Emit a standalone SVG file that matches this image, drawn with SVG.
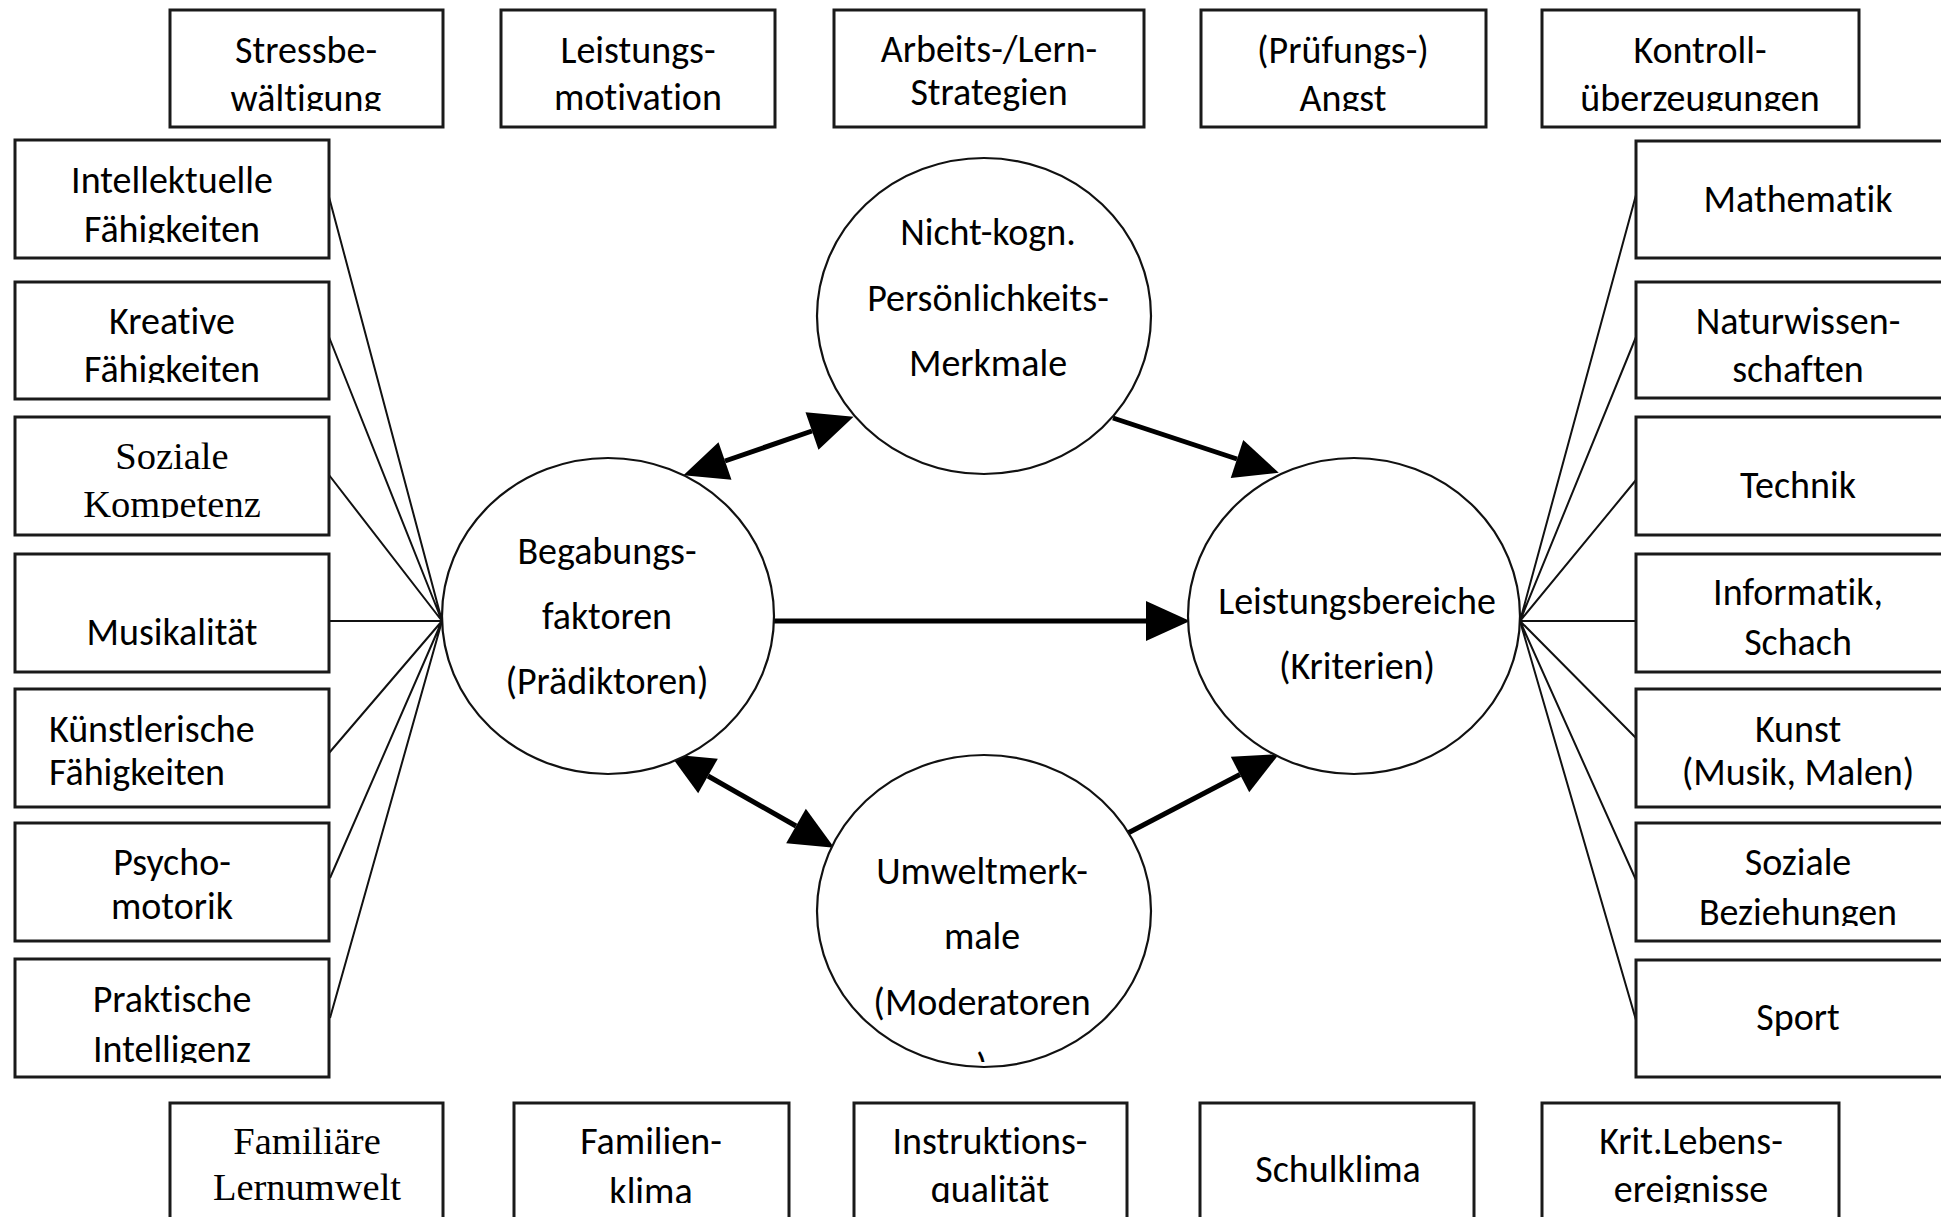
<svg xmlns="http://www.w3.org/2000/svg" width="1941" height="1217" viewBox="0 0 1941 1217">
<style>
.box{fill:#fff;stroke:#1a1a1a;stroke-width:3}
.ell{fill:#fff;stroke:#111;stroke-width:2.2}
.t{font-family:Carlito,Lato,"Liberation Sans",sans-serif;font-size:38px;fill:#000;text-anchor:middle;font-variant-ligatures:none}
.ts{text-anchor:start}
.s{font-family:"Liberation Serif",serif;font-size:38.5px;fill:#000;text-anchor:middle}
.fan{stroke:#111;stroke-width:2;fill:none}
.arr{stroke:#000;stroke-width:5;fill:none}
</style>
<defs>
<marker id="ah" markerUnits="userSpaceOnUse" markerWidth="44" markerHeight="40" refX="0" refY="19" orient="auto-start-reverse" viewBox="0 0 42 38" overflow="visible">
<path d="M0,0 L42,19 L0,38 Z" fill="#000"/>
</marker>
<clipPath id="cTop"><rect x="0" y="0" width="1941" height="111"/></clipPath>
<clipPath id="cL1"><rect x="0" y="140" width="340" height="103"/></clipPath>
<clipPath id="cL2"><rect x="0" y="281" width="340" height="102"/></clipPath>
<clipPath id="cL3"><rect x="0" y="417" width="340" height="101"/></clipPath>
<clipPath id="cL7"><rect x="0" y="959" width="340" height="104"/></clipPath>
<clipPath id="cR6"><rect x="1630" y="823" width="320" height="103"/></clipPath>
<clipPath id="cBot"><rect x="0" y="1100" width="1941" height="103"/></clipPath>
<clipPath id="cUm"><rect x="800" y="1040" width="400" height="22"/></clipPath>
</defs>
<rect width="1941" height="1217" fill="#fff"/>

<g id="connectors">
<path class="fan" d="M329,197 L442,621 M329,337 L442,621 M329,475 L442,621 M329,621 L442,621 M329,753 L442,621 M330,878 L442,621 M330,1018 L442,621"/>
<path class="fan" d="M1636,195 L1520,621 M1636,337 L1520,621 M1636,480 L1520,621 M1636,621 L1520,621 M1636,738 L1520,621 M1636,880 L1520,621 M1636,1020 L1520,621"/>
<line class="arr" x1="725" y1="461" x2="812" y2="431" marker-start="url(#ah)" marker-end="url(#ah)"/>
<line class="arr" x1="1113" y1="418" x2="1237" y2="459" marker-end="url(#ah)"/>
<line class="arr" x1="774" y1="621" x2="1146" y2="621" marker-end="url(#ah)"/>
<line class="arr" x1="708" y1="776" x2="796" y2="826" marker-start="url(#ah)" marker-end="url(#ah)"/>
<line class="arr" x1="1128" y1="833" x2="1240" y2="774.5" marker-end="url(#ah)"/>
</g>

<g id="top-stress"><rect class="box" x="170" y="10" width="273" height="117"/><g clip-path="url(#cTop)"><text class="t" x="306" y="63">Stressbe-</text><text class="t" x="306" y="111">wältigung</text></g></g>
<g id="top-leistung"><rect class="box" x="501" y="10" width="274" height="117"/><g clip-path="url(#cTop)"><text class="t" x="638" y="63">Leistungs-</text><text class="t" x="638" y="110">motivation</text></g></g>
<g id="top-arbeit"><rect class="box" x="834" y="10" width="310" height="117"/><g clip-path="url(#cTop)"><text class="t" x="989" y="62">Arbeits-/Lern-</text><text class="t" x="989" y="105">Strategien</text></g></g>
<g id="top-angst"><rect class="box" x="1201" y="10" width="285" height="117"/><g clip-path="url(#cTop)"><text class="t" x="1343" y="63">(Prüfungs-)</text><text class="t" x="1343" y="111">Angst</text></g></g>
<g id="top-kontroll"><rect class="box" x="1542" y="10" width="317" height="117"/><g clip-path="url(#cTop)"><text class="t" x="1700" y="63">Kontroll-</text><text class="t" x="1700" y="111">überzeugungen</text></g></g>

<g id="left-intellekt"><rect class="box" x="15" y="140" width="314" height="118"/><g clip-path="url(#cL1)"><text class="t" x="172" y="193">Intellektuelle</text><text class="t" x="172" y="242">Fähigkeiten</text></g></g>
<g id="left-kreativ"><rect class="box" x="15" y="282" width="314" height="117"/><g clip-path="url(#cL2)"><text class="t" x="172" y="334">Kreative</text><text class="t" x="172" y="382">Fähigkeiten</text></g></g>
<g id="left-sozial"><rect class="box" x="15" y="417" width="314" height="118"/><g clip-path="url(#cL3)"><text class="s" x="172" y="469">Soziale</text><text class="s" x="172" y="517">Kompetenz</text></g></g>
<g id="left-musik"><rect class="box" x="15" y="554" width="314" height="118"/><text class="t" x="172" y="645">Musikalität</text></g>
<g id="left-kuenstler"><rect class="box" x="15" y="689" width="314" height="118"/><text class="t ts" x="49" y="742">Künstlerische</text><text class="t ts" x="49" y="785">Fähigkeiten</text></g>
<g id="left-psycho"><rect class="box" x="15" y="823" width="314" height="118"/><text class="t" x="172" y="875">Psycho-</text><text class="t" x="172" y="919">motorik</text></g>
<g id="left-praktisch"><rect class="box" x="15" y="959" width="314" height="118"/><g clip-path="url(#cL7)"><text class="t" x="172" y="1012">Praktische</text><text class="t" x="172" y="1062">Intelligenz</text></g></g>

<g id="right-mathe"><rect class="box" x="1636" y="141" width="330" height="117"/><text class="t" x="1798" y="212">Mathematik</text></g>
<g id="right-natur"><rect class="box" x="1636" y="282" width="330" height="116"/><text class="t" x="1798" y="334">Naturwissen-</text><text class="t" x="1798" y="382">schaften</text></g>
<g id="right-technik"><rect class="box" x="1636" y="417" width="330" height="118"/><text class="t" x="1798" y="498">Technik</text></g>
<g id="right-informatik"><rect class="box" x="1636" y="554" width="330" height="118"/><text class="t" x="1798" y="605">Informatik,</text><text class="t" x="1798" y="655">Schach</text></g>
<g id="right-kunst"><rect class="box" x="1636" y="689" width="330" height="118"/><text class="t" x="1798" y="742">Kunst</text><text class="t" x="1798" y="785">(Musik, Malen)</text></g>
<g id="right-soziale"><rect class="box" x="1636" y="823" width="330" height="118"/><g clip-path="url(#cR6)"><text class="t" x="1798" y="875">Soziale</text><text class="t" x="1798" y="925">Beziehungen</text></g></g>
<g id="right-sport"><rect class="box" x="1636" y="960" width="330" height="117"/><text class="t" x="1798" y="1030">Sport</text></g>

<g id="bot-familiaer"><rect class="box" x="170" y="1103" width="273" height="130"/><g clip-path="url(#cBot)"><text class="s" x="307" y="1154">Familiäre</text><text class="s" x="307" y="1200">Lernumwelt</text></g></g>
<g id="bot-familienklima"><rect class="box" x="514" y="1103" width="275" height="130"/><g clip-path="url(#cBot)"><text class="t" x="651" y="1154">Familien-</text><text class="t" x="651" y="1204">klima</text></g></g>
<g id="bot-instruktion"><rect class="box" x="854" y="1103" width="273" height="130"/><g clip-path="url(#cBot)"><text class="t" x="990" y="1154">Instruktions-</text><text class="t" x="990" y="1202">qualität</text></g></g>
<g id="bot-schulklima"><rect class="box" x="1200" y="1103" width="274" height="130"/><text class="t" x="1338" y="1182">Schulklima</text></g>
<g id="bot-krit"><rect class="box" x="1542" y="1103" width="297" height="130"/><g clip-path="url(#cBot)"><text class="t" x="1691" y="1154">Krit.Lebens-</text><text class="t" x="1691" y="1202">ereignisse</text></g></g>

<g id="node-nichtkogn"><ellipse class="ell" cx="984" cy="316" rx="167" ry="158"/><text class="t" x="988" y="245">Nicht-kogn.</text><text class="t" x="988" y="311">Persönlichkeits-</text><text class="t" x="988" y="376">Merkmale</text></g>
<g id="node-begabung"><ellipse class="ell" cx="608" cy="616" rx="166" ry="158"/><text class="t" x="607" y="564">Begabungs-</text><text class="t" x="607" y="629">faktoren</text><text class="t" x="607" y="694">(Prädiktoren)</text></g>
<g id="node-leistung"><ellipse class="ell" cx="1354" cy="616" rx="166" ry="158"/><text class="t" x="1357" y="614">Leistungsbereiche</text><text class="t" x="1357" y="679">(Kriterien)</text></g>
<g id="node-umwelt"><ellipse class="ell" cx="984" cy="911" rx="167" ry="156"/><text class="t" x="982" y="884">Umweltmerk-</text><text class="t" x="982" y="949">male</text><text class="t" x="982" y="1015">(Moderatoren</text><g clip-path="url(#cUm)"><text class="t" x="982" y="1080">)</text></g></g>
</svg>
